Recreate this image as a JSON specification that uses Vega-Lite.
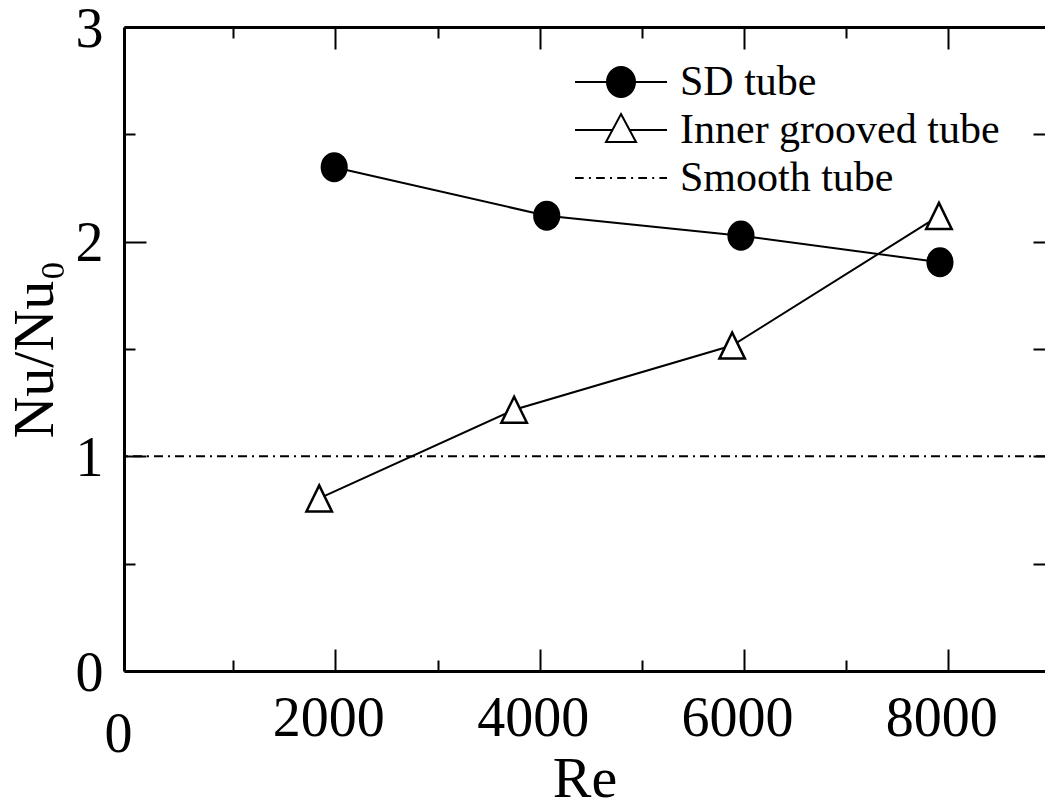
{
  "$schema": "https://vega.github.io/schema/vega-lite/v6.json",
  "width": 921,
  "height": 644,
  "autosize": {"type": "none"},
  "padding": {"left": 124, "top": 27, "right": 0, "bottom": 131},
  "background": "white",
  "config": {
    "font": "Liberation Serif",
    "view": {"stroke": null},
    "axis": {
      "grid": false,
      "domainColor": "black",
      "domainWidth": 3,
      "tickColor": "black",
      "tickWidth": 2,
      "tickSize": -22,
      "labelColor": "black",
      "labelFont": "Liberation Serif",
      "labelFontSize": 56,
      "labelFlush": false,
      "labelOverlap": false,
      "titleFont": "Liberation Serif",
      "titleFontSize": 58,
      "titleFontWeight": "normal",
      "titleColor": "black"
    },
    "legend": {
      "title": null,
      "padding": 0,
      "symbolSize": 900,
      "symbolStrokeWidth": 2,
      "symbolStrokeColor": "black",
      "labelFont": "Liberation Serif",
      "labelFontSize": 42,
      "labelColor": "black",
      "labelLimit": 0,
      "labelOffset": 38,
      "rowPadding": 6
    }
  },
  "data": {
    "values": [
      {"series": "SD tube", "Re": 1989, "ratio": 2.347},
      {"series": "SD tube", "Re": 4069, "ratio": 2.121},
      {"series": "SD tube", "Re": 5970, "ratio": 2.028},
      {"series": "SD tube", "Re": 7918, "ratio": 1.904},
      {"series": "Inner grooved tube", "Re": 1842, "ratio": 0.804},
      {"series": "Inner grooved tube", "Re": 3750, "ratio": 1.217},
      {"series": "Inner grooved tube", "Re": 5884, "ratio": 1.516},
      {"series": "Inner grooved tube", "Re": 7908, "ratio": 2.12},
      {"series": "Smooth tube", "ratio": 1}
    ]
  },
  "resolve": {
    "axis": {"x": "independent", "y": "independent"},
    "scale": {"shape": "independent", "fill": "independent", "stroke": "independent"}
  },
  "layer": [
    {
      "transform": [{"filter": "datum.series === 'Smooth tube'"}],
      "mark": {"type": "rule", "color": "black", "strokeWidth": 2, "strokeDash": [9, 5, 2, 5]},
      "encoding": {
        "y": {
          "field": "ratio", "type": "quantitative",
          "scale": {"domain": [0, 3], "nice": false, "zero": false},
          "axis": {"orient": "left", "title": null, "labels": false, "domain": false, "tickSize": -11, "values": [0.5, 1.5, 2.5]}
        }
      }
    },
    {
      "transform": [{"filter": "datum.series !== 'Smooth tube'"}],
      "mark": {"type": "line", "color": "black", "strokeWidth": 2},
      "encoding": {
        "x": {
          "field": "Re", "type": "quantitative",
          "scale": {"domain": [-68.5, 8946], "nice": false, "zero": false},
          "axis": {
            "orient": "bottom",
            "title": "Re",
            "titleBaseline": "alphabetic",
            "titleY": 125,
            "values": [2000, 4000, 6000, 8000],
            "format": "d",
            "labelPadding": 42,
            "labelOffset": -7
          }
        },
        "y": {
          "field": "ratio", "type": "quantitative",
          "scale": {"domain": [0, 3], "nice": false, "zero": false},
          "axis": {
            "orient": "left",
            "title": "Nu/Nu₀",
            "titleBaseline": "alphabetic",
            "titleX": -72,
            "values": [0, 1, 2, 3],
            "format": "d",
            "labelPadding": 43,
            "labelBaseline": "alphabetic",
            "labelOffset": 19
          }
        },
        "detail": {"field": "series"}
      }
    },
    {
      "transform": [{"filter": "datum.series !== 'Smooth tube'"}],
      "mark": {"type": "point", "filled": true, "stroke": "black", "strokeWidth": 2.5, "size": 784, "opacity": 1},
      "encoding": {
        "x": {
          "field": "Re", "type": "quantitative",
          "axis": {"orient": "top", "title": null, "labels": false, "values": [2000, 4000, 6000, 8000]}
        },
        "y": {
          "field": "ratio", "type": "quantitative",
          "axis": {"orient": "right", "title": null, "labels": false, "domain": false, "tickSize": -12, "values": [0.5, 1, 1.5, 2, 2.5]}
        },
        "shape": {
          "field": "series", "type": "nominal",
          "scale": {
            "domain": ["SD tube", "Inner grooved tube"],
            "range": [
              "M-0.88,0A0.88,0.985 0 1,0 0.88,0A0.88,0.985 0 1,0 -0.88,0Z",
              "M0,-0.93L0.91,0.93L-0.91,0.93Z"
            ]
          },
          "legend": null
        },
        "fill": {
          "field": "series", "type": "nominal",
          "scale": {"domain": ["SD tube", "Inner grooved tube"], "range": ["black", "white"]},
          "legend": null
        }
      }
    },
    {
      "transform": [{"filter": "false"}],
      "mark": {"type": "point", "filled": true, "strokeWidth": 2, "opacity": 1},
      "encoding": {
        "x": {
          "field": "Re", "type": "quantitative",
          "axis": {"orient": "bottom", "title": null, "labels": false, "domain": false, "tickSize": -11, "values": [1000, 3000, 5000, 7000]}
        },
        "shape": {
          "field": "series", "type": "nominal",
          "scale": {
            "domain": ["SD tube", "Inner grooved tube", "Smooth tube"],
            "range": [
              "M-3.067,0H3.067M-0.933,0A0.933,1 0 1,0 0.933,0A0.933,1 0 1,0 -0.933,0Z",
              "M-3.067,0H-0.571M0.571,0H3.067M0,-1.067L1,0.8L-1,0.8Z",
              "M-3.067,0H-2.487M-2.14,0H-2.007M-1.66,0H-1.08M-0.733,0H-0.6M-0.253,0H0.327M0.673,0H0.807M1.153,0H1.733M2.08,0H2.213M2.56,0H3.067"
            ]
          },
          "legend": {"orient": "none", "legendX": 476, "legendY": 34}
        },
        "fill": {
          "field": "series", "type": "nominal",
          "scale": {"domain": ["SD tube", "Inner grooved tube", "Smooth tube"], "range": ["black", "white", "transparent"]},
          "legend": {"orient": "none", "legendX": 476, "legendY": 34}
        },
        "stroke": {
          "field": "series", "type": "nominal",
          "scale": {"domain": ["SD tube", "Inner grooved tube", "Smooth tube"], "range": ["black", "black", "black"]},
          "legend": {"orient": "none", "legendX": 476, "legendY": 34}
        }
      }
    },
    {
      "transform": [{"filter": "false"}],
      "mark": {"type": "point"},
      "encoding": {
        "x": {
          "field": "Re", "type": "quantitative",
          "axis": {"orient": "top", "title": null, "labels": false, "domain": false, "tickSize": -11, "values": [1000, 3000, 5000, 7000]}
        }
      }
    },
    {
      "transform": [{"filter": "false"}],
      "mark": {"type": "point"},
      "encoding": {
        "x": {
          "field": "Re", "type": "quantitative",
          "axis": {"orient": "bottom", "title": null, "ticks": false, "domain": false, "values": [0], "format": "d", "labelPadding": 36, "labelOffset": -13}
        }
      }
    }
  ]
}
